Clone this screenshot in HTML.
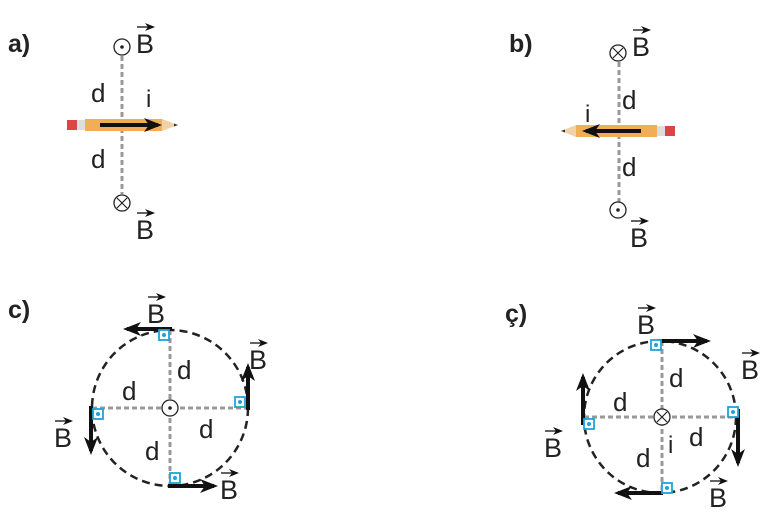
<!DOCTYPE html><html><head><style>body{margin:0;background:#fff}svg{display:block}text{font-family:"Liberation Sans",sans-serif}</style></head><body>
<svg width="776" height="529" viewBox="0 0 776 529" xmlns="http://www.w3.org/2000/svg">
<defs>
<marker id="ah" markerWidth="10" markerHeight="8" refX="8" refY="4" orient="auto" markerUnits="userSpaceOnUse"><path d="M0,0 L10,4 L0,8 L3,4z" fill="#111"/></marker>
<marker id="ahb" markerWidth="18" markerHeight="14" refX="14" refY="7" orient="auto" markerUnits="userSpaceOnUse"><path d="M0,0 L18,7 L0,14 L5,7z" fill="#111"/></marker>
<g id="bv"><text x="0" y="0" font-size="27">B</text><path d="M1,-26 L17,-26" stroke="#111" stroke-width="1.3" marker-end="url(#ah)"/></g>
<g id="sq"><rect x="-5" y="-5" width="10" height="10" fill="#fff" stroke="#1ea3d8" stroke-width="1.8"/><circle r="2" fill="#1ea3d8"/></g>
</defs>
<g font-weight="bold" font-size="25" fill="#222">
<text x="8" y="52" font-weight="bold">a)</text><text x="509" y="52" font-weight="bold">b)</text>
<text x="8" y="318" font-weight="bold">c)</text><text x="505" y="322" font-weight="bold">ç)</text>
</g>
<g font-size="26" fill="#222">
<!-- a -->
<line x1="122" y1="56" x2="122" y2="194" stroke="#999" stroke-width="3" stroke-dasharray="5,3"/>
<circle cx="122" cy="47" r="8" fill="#fff" stroke="#222" stroke-width="1.3"/><circle cx="122" cy="47" r="1.8" fill="#222"/>
<circle cx="122" cy="203" r="8" fill="#fff" stroke="#222" stroke-width="1.3"/><path d="M117,198 L127,208 M127,198 L117,208" stroke="#222" stroke-width="1.2"/>
<rect x="67" y="120" width="10" height="10" fill="#d44"/><rect x="77" y="120" width="8" height="10" fill="#ddd"/>
<rect x="85" y="119" width="77" height="12" fill="#f2ae55"/><path d="M162,119 L178,125 L162,131z" fill="#f0d2a8"/><path d="M174,123.5 L178,125 L174,126.5z" fill="#333"/>
<line x1="100" y1="125" x2="158" y2="125" stroke="#111" stroke-width="4" marker-end="url(#ahb)"/>
<use href="#bv" x="136" y="53"/><use href="#bv" x="136" y="239"/>
<text x="91" y="102">d</text><text x="91" y="168">d</text><text x="146" y="107" font-size="24">i</text>
<!-- b -->
<line x1="619" y1="62" x2="619" y2="202" stroke="#999" stroke-width="3" stroke-dasharray="5,3"/>
<circle cx="618" cy="53" r="8" fill="#fff" stroke="#222" stroke-width="1.3"/><path d="M613,48 L623,58 M623,48 L613,58" stroke="#222" stroke-width="1.2"/>
<circle cx="618" cy="210" r="8" fill="#fff" stroke="#222" stroke-width="1.3"/><circle cx="618" cy="210" r="1.8" fill="#222"/>
<rect x="576" y="125" width="81" height="12" fill="#f2ae55"/><path d="M576,125 L561,131 L576,137z" fill="#f0d2a8"/><path d="M565,129.5 L561,131 L565,132.5z" fill="#333"/>
<rect x="657" y="126" width="8" height="10" fill="#ddd"/><rect x="665" y="126" width="10" height="10" fill="#d44"/>
<line x1="641" y1="131" x2="586" y2="131" stroke="#111" stroke-width="4" marker-end="url(#ahb)"/>
<use href="#bv" x="632" y="56"/><use href="#bv" x="630" y="247"/>
<text x="622" y="109">d</text><text x="622" y="176">d</text><text x="585" y="122" font-size="24">i</text>
<!-- c -->
<circle cx="170" cy="408" r="78" fill="none" stroke="#222" stroke-width="2.5" stroke-dasharray="8,5"/>
<line x1="92" y1="408" x2="248" y2="408" stroke="#999" stroke-width="3" stroke-dasharray="5,3"/>
<line x1="170" y1="330" x2="170" y2="486" stroke="#999" stroke-width="3" stroke-dasharray="5,3"/>
<circle cx="170" cy="408" r="8" fill="#fff" stroke="#222" stroke-width="1.3"/><circle cx="170" cy="408" r="1.8" fill="#222"/>
<line x1="172" y1="329" x2="127" y2="329" stroke="#111" stroke-width="4" marker-end="url(#ahb)"/>
<line x1="248" y1="410" x2="248" y2="367" stroke="#111" stroke-width="4" marker-end="url(#ahb)"/>
<line x1="168" y1="486" x2="214" y2="486" stroke="#111" stroke-width="4" marker-end="url(#ahb)"/>
<line x1="91" y1="406" x2="91" y2="451" stroke="#111" stroke-width="4" marker-end="url(#ahb)"/>
<use href="#sq" x="164" y="335"/><use href="#sq" x="240" y="402"/><use href="#sq" x="175" y="478"/><use href="#sq" x="98" y="414"/>
<use href="#bv" x="147" y="323"/><use href="#bv" x="249" y="369"/><use href="#bv" x="54" y="447"/><use href="#bv" x="220" y="499"/>
<text x="177" y="379">d</text><text x="122" y="400">d</text><text x="199" y="438">d</text><text x="145" y="460">d</text>
<!-- ç -->
<circle cx="660" cy="417" r="76" fill="none" stroke="#222" stroke-width="2.5" stroke-dasharray="8,5"/>
<line x1="584" y1="417" x2="736" y2="417" stroke="#999" stroke-width="3" stroke-dasharray="5,3"/>
<line x1="662" y1="341" x2="662" y2="493" stroke="#999" stroke-width="3" stroke-dasharray="5,3"/>
<circle cx="662" cy="417" r="8" fill="#fff" stroke="#222" stroke-width="1.3"/><path d="M657,412 L667,422 M667,412 L657,422" stroke="#222" stroke-width="1.2"/>
<line x1="658" y1="341" x2="707" y2="341" stroke="#111" stroke-width="4" marker-end="url(#ahb)"/>
<line x1="738" y1="409" x2="738" y2="463" stroke="#111" stroke-width="4" marker-end="url(#ahb)"/>
<line x1="663" y1="493" x2="618" y2="493" stroke="#111" stroke-width="4" marker-end="url(#ahb)"/>
<line x1="583" y1="425" x2="583" y2="377" stroke="#111" stroke-width="4" marker-end="url(#ahb)"/>
<use href="#sq" x="656" y="345"/><use href="#sq" x="733" y="412"/><use href="#sq" x="667" y="488"/><use href="#sq" x="589" y="424"/>
<use href="#bv" x="637" y="334"/><use href="#bv" x="741" y="379"/><use href="#bv" x="544" y="457"/><use href="#bv" x="709" y="507"/>
<text x="669" y="387">d</text><text x="613" y="411">d</text><text x="689" y="446">d</text><text x="636" y="467">d</text><text x="668" y="453" font-size="24">i</text>
</g>
</svg>
</body></html>
